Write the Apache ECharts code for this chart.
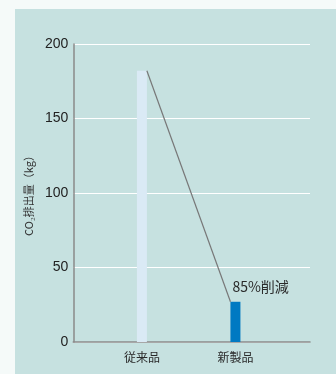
<!DOCTYPE html>
<html>
<head>
<meta charset="utf-8">
<script src="https://cdn.jsdelivr.net/npm/echarts@6/dist/echarts.min.js"></script>
<style>
  html, body { margin: 0; padding: 0; background: #f5faf9; }
  #panel { position: absolute; left: 15px; top: 9px; width: 321px; height: 365px; background: #c6e1e0; }
</style>
</head>
<body>
<div id="panel"></div>
<script>
// データ
var categories = ['従来品', '新製品'];
var positions = [2.9, 6.85];      // カテゴリの位置（x軸 0-10）
var values = [182, 27];           // CO2排出量 (kg)
var barColors = ['#daeaf5', '#0079c2'];
var yTicks = [0, 50, 100, 150, 200];
var reductionLabel = '85%削減';

var chart = echarts.init(document.getElementById('panel'));

var half = 0.21; // 棒の半幅（x軸単位）
var barData = values.map(function (v, i) {
    return { value: [positions[i], v], itemStyle: { color: barColors[i] } };
});
barData[1].label = {
    show: true,
    formatter: reductionLabel,
    position: [2, -22],
    color: '#2a2a2a',
    fontSize: 14,
    fontFamily: 'Noto Sans CJK JP'
};

var option = {
    animation: false,
    grid: { left: 57, top: 35, right: 26, bottom: 32 },
    xAxis: {
        type: 'value',
        min: 0,
        max: 10,
        splitLine: { show: false },
        axisLine: { show: true, lineStyle: { color: '#8a8a8a', width: 1.5 } },
        axisTick: { show: false },
        axisLabel: {
            customValues: positions,
            formatter: function (v) {
                var i = positions.indexOf(v);
                return i >= 0 ? categories[i] : '';
            },
            color: '#2a2a2a',
            fontSize: 12,
            margin: 9,
            fontFamily: 'Noto Sans CJK JP'
        }
    },
    yAxis: {
        type: 'value',
        min: yTicks[0],
        max: yTicks[yTicks.length - 1],
        interval: 50,
        name: 'CO₂排出量（kg）',
        nameLocation: 'middle',
        nameRotate: 90,
        nameGap: 36,
        nameTextStyle: { color: '#333', fontSize: 11, fontFamily: 'Noto Sans CJK JP' },
        axisLine: { show: true, lineStyle: { color: '#8a8a8a', width: 1.5 } },
        axisTick: { show: false },
        splitLine: { lineStyle: { color: '#ffffff', width: 1 } },
        axisLabel: { color: '#222', fontSize: 14, margin: 5, fontFamily: 'Liberation Sans' }
    },
    series: [
        {
            type: 'bar',
            barWidth: 10,
            data: barData,
            z: 2
        },
        {
            type: 'line',
            symbol: 'none',
            lineStyle: { color: '#777', width: 1.2 },
            data: [[positions[0] + half, values[0]], [positions[1] - half, values[1]]],
            z: 3
        }
    ]
};

chart.setOption(option);
</script>
</body>
</html>
